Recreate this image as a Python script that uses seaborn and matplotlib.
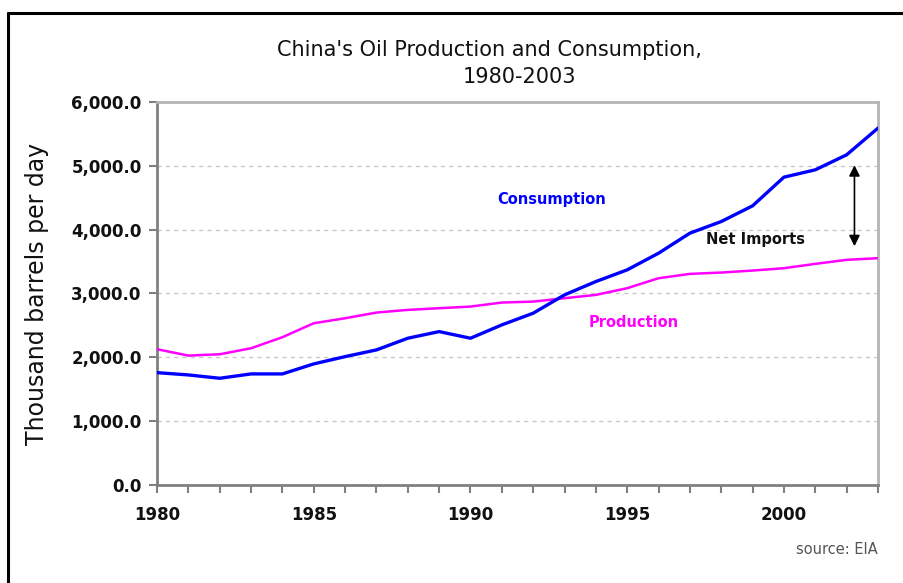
import matplotlib
matplotlib.use("Agg")
import matplotlib.pyplot as plt
import seaborn as sns
import pandas as pd
from matplotlib.lines import Line2D
from matplotlib.ticker import FuncFormatter, MultipleLocator

# Data (thousand barrels per day)
years = list(range(1980, 2004))
consumption = [1760, 1724, 1672, 1740, 1740, 1897, 2011, 2116, 2299, 2403, 2299, 2508,
               2691, 2978, 3187, 3370, 3631, 3945, 4127, 4373, 4822, 4937, 5172, 5590]
production = [2127, 2027, 2048, 2142, 2315, 2534, 2612, 2701, 2743, 2769, 2795, 2858,
              2873, 2926, 2978, 3083, 3239, 3307, 3328, 3359, 3396, 3464, 3527, 3553]
y_ticks = [0, 1000, 2000, 3000, 4000, 5000, 6000]
x_ticks = [1980, 1985, 1990, 1995, 2000]

df = pd.DataFrame({'Year': years, 'Consumption': consumption, 'Production': production})

sns.set_style("white")
plt.rcParams['font.family'] = ['DejaVu Sans']

fig = plt.figure(figsize=(9.04, 5.83), dpi=100)
ax = fig.add_axes([0.1737, 0.1681, 0.7975, 0.657])

sns.lineplot(data=df, x='Year', y='Production', ax=ax, color='#FF00FF', linewidth=1.8, zorder=3)
sns.lineplot(data=df, x='Year', y='Consumption', ax=ax, color='#0000FF', linewidth=2.4, zorder=4)

ax.set_xlim(1980, 2003)
ax.set_ylim(0, 6000)
ax.set_xticks(x_ticks)
ax.xaxis.set_minor_locator(MultipleLocator(1))
ax.set_yticks(y_ticks)
ax.yaxis.set_major_formatter(FuncFormatter(lambda v, p: f'{v:,.1f}'))

ax.tick_params(axis='both', which='both', direction='out', color='#808080', width=1.5,
               labelsize=12, labelcolor='#111111')
ax.tick_params(axis='both', which='major', length=6)
ax.tick_params(axis='y', which='major', pad=5)
ax.tick_params(axis='x', which='major', pad=9)
ax.tick_params(axis='x', which='minor', length=6)
ax.tick_params(axis='y', which='minor', left=False)
ax.tick_params(axis='x', which='both', bottom=True)
ax.tick_params(axis='y', which='both', left=True)
for lbl in ax.get_xticklabels() + ax.get_yticklabels():
    lbl.set_fontweight('bold')

for yv in y_ticks[1:-1]:
    ax.axhline(yv, color='#c8c8c8', linestyle=(0, (3, 3)), linewidth=1, zorder=1)

for side in ['left', 'bottom']:
    ax.spines[side].set_color('#808080')
    ax.spines[side].set_linewidth(2)
for side in ['top', 'right']:
    ax.spines[side].set_color('#b4b4b4')
    ax.spines[side].set_linewidth(2)

ax.set_xlabel('')
ax.set_ylabel('Thousand barrels per day', fontsize=17, color='#111111')
ax.yaxis.set_label_coords(-0.150, 0.5)

# Labels and arrow
ax.text(1992.6, 4480, 'Consumption', color='#0000FF', fontsize=10.5, fontweight='bold',
        ha='center', va='center')
ax.text(1995.2, 2540, 'Production', color='#FF00FF', fontsize=10.5, fontweight='bold',
        ha='center', va='center')
ax.text(1999.1, 3840, 'Net Imports', color='#111111', fontsize=10.5, fontweight='bold',
        ha='center', va='center')
ax.annotate('', xy=(2002.25, 3740), xytext=(2002.25, 5010),
            arrowprops=dict(arrowstyle='<|-|>', color='black', lw=1.2,
                            mutation_scale=16, shrinkA=0, shrinkB=0))

fig.text(489 / 904, 1 - 50 / 583, "China's Oil Production and Consumption,", ha='center',
         va='center', fontsize=15, color='#111111')
fig.text(519 / 904, 1 - 77 / 583, '1980-2003', ha='center', va='center', fontsize=15,
         color='#111111')
fig.text(878 / 904, 1 - 549 / 583, 'source: EIA', ha='right', va='center',
         fontsize=10.5, color='#555555')

# Outer frame lines (left and top only visible in the reference)
fig.add_artist(Line2D([8 / 904, 8 / 904], [0, 1 - 13 / 583], color='black', linewidth=2.2,
                      transform=fig.transFigure))
fig.add_artist(Line2D([8 / 904, 1], [1 - 13 / 583, 1 - 13 / 583], color='black',
                      linewidth=2.2, transform=fig.transFigure))

fig.savefig('out.png', dpi=100, facecolor='white')
